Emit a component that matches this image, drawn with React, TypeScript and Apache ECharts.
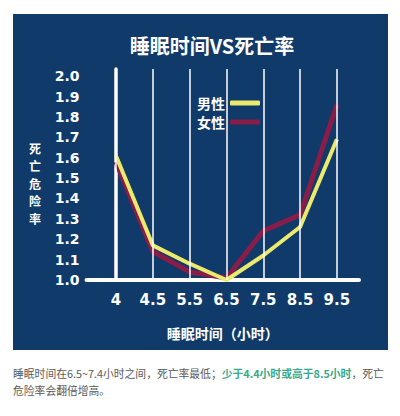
import * as echarts from 'echarts';
import { useEffect, useRef } from 'react';

const categories = ['4', '4.5', '5.5', '6.5', '7.5', '8.5', '9.5'];
const maleValues = [1.61, 1.17, 1.08, 1.0, 1.12, 1.26, 1.69];
const femaleValues = [1.58, 1.14, 1.04, 1.01, 1.24, 1.32, 1.86];

const TITLE = '睡眠时间VS死亡率';
const X_NAME = '睡眠时间（小时）';
const Y_NAME = '死亡危险率';
const NOTE_1 = '睡眠时间在6.5~7.4小时之间，死亡率最低；';
const NOTE_GREEN = '少于4.4小时或高于8.5小时';
const NOTE_2 = '，死亡';
const NOTE_3 = '危险率会翻倍增高。';

const PANEL = '#0f3a6a';
const LATIN = '"DejaVu Sans", "Noto Sans CJK SC", sans-serif';
const CJK = '"Noto Sans CJK SC", sans-serif';

const App = () => {
  const chartRef = useRef<HTMLDivElement>(null);

  useEffect(() => {
    if (!chartRef.current) return;
    const chart = echarts.init(chartRef.current, undefined, { renderer: 'svg' });

    const toPoints = (vals: number[]) => categories.map((_, i) => [i, vals[i]]);

    chart.setOption({
      animation: false,
      backgroundColor: '#ffffff',
      grid: { left: 86.5, right: 41, top: 69, bottom: 136 },
      legend: {
        data: ['男性', '女性'],
        orient: 'vertical',
        align: 'right',
        left: 192,
        top: 91,
        itemWidth: 30,
        itemHeight: 5,
        itemGap: 5,
        icon: 'roundRect',
        textStyle: { color: '#ffffff', fontSize: 14, fontWeight: 'bold', fontFamily: CJK },
      },
      xAxis: {
        type: 'value',
        min: -0.8,
        max: 6.6,
        axisLine: { show: true, lineStyle: { color: '#ffffff', width: 4 } },
        axisTick: { show: false },
        splitLine: { show: false },
        axisLabel: {
          customValues: categories.map((_, i) => i),
          formatter: (v: number) => categories[Math.round(v)] ?? '',
          color: '#ffffff',
          fontSize: 15,
          fontWeight: 'bold',
          fontFamily: LATIN,
          margin: 12,
        },
        name: X_NAME,
        nameLocation: 'middle',
        nameGap: 46,
        nameTextStyle: { color: '#ffffff', fontSize: 14, fontWeight: 'bold', fontFamily: CJK },
      },
      yAxis: {
        type: 'value',
        min: 1,
        max: 2.035,
        interval: 0.1,
        axisLine: { show: true, lineStyle: { color: '#ffffff', width: 3.5 } },
        axisTick: { show: false },
        splitLine: { show: false },
        axisLabel: {
          showMaxLabel: false,
          formatter: (v: number) => v.toFixed(1),
          color: '#ffffff',
          fontSize: 14,
          fontWeight: 'bold',
          fontFamily: LATIN,
          margin: 7,
        },
      },
      graphic: [
        {
          type: 'rect',
          z: -10,
          silent: true,
          shape: { x: 13, y: 14, width: 375, height: 336 },
          style: { fill: PANEL },
        },
        {
          type: 'text',
          x: 212,
          y: 45,
          style: {
            text: TITLE,
            fill: '#ffffff',
            font: `bold 20px ${CJK}`,
            textAlign: 'center',
            textVerticalAlign: 'middle',
          },
        },
        {
          type: 'text',
          x: 35,
          y: 183,
          style: {
            text: Y_NAME.split('').join('\n'),
            fill: '#ffffff',
            font: `bold 12px ${CJK}`,
            lineHeight: 17.5,
            textAlign: 'center',
            textVerticalAlign: 'middle',
          },
        },
        {
          type: 'text',
          x: 13,
          y: 381,
          style: {
            text: `{g|${NOTE_1}}{h|${NOTE_GREEN}}{g|${NOTE_2}}\n{g|${NOTE_3}}`,
            textVerticalAlign: 'middle',
            rich: {
              g: { fill: '#5a5a5a', fontSize: 10.8, fontFamily: CJK, lineHeight: 17 },
              h: { fill: '#3aa88a', fontSize: 10.8, fontFamily: CJK, fontWeight: 'bold', lineHeight: 17 },
            },
          },
        },
      ],
      series: [
        {
          name: '女性',
          type: 'line',
          data: toPoints(femaleValues),
          symbol: 'none',
          color: '#8a1d48',
          lineStyle: { width: 5, color: '#8a1d48' },
          z: 3,
          markLine: {
            silent: true,
            symbol: 'none',
            label: { show: false },
            lineStyle: { color: '#ffffff', width: 1.5, type: 'solid' },
            data: categories.map((_, i) => ({ xAxis: i })),
          },
        },
        {
          name: '男性',
          type: 'line',
          data: toPoints(maleValues),
          symbol: 'none',
          color: '#ecea6c',
          lineStyle: { width: 4, color: '#ecea6c' },
          z: 4,
        },
      ],
    });

    return () => chart.dispose();
  }, []);

  return (
    <div style={{ position: 'fixed', left: 0, top: 0, width: 400, height: 416, background: '#fff' }}>
      <div ref={chartRef} style={{ width: 400, height: 416 }} />
    </div>
  );
};

export default App;
